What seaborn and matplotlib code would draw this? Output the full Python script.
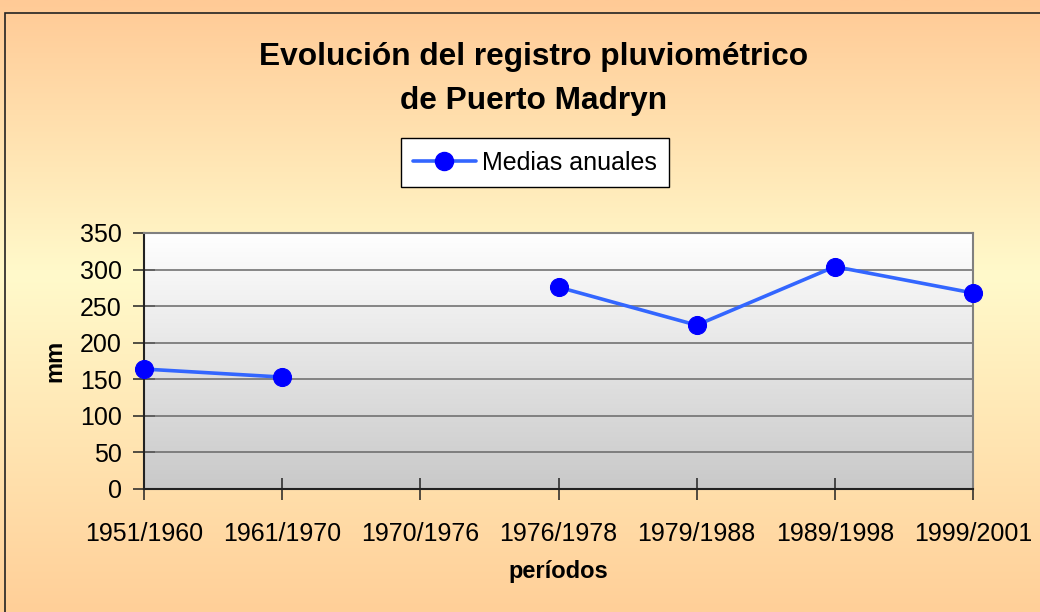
import numpy as np
import pandas as pd
import matplotlib
matplotlib.use("Agg")
import matplotlib.pyplot as plt
import seaborn as sns
from matplotlib.colors import LinearSegmentedColormap
from matplotlib.lines import Line2D
from matplotlib.patches import Rectangle

# ── Data ─────────────────────────────────────
periodos = ["1951/1960", "1961/1970", "1970/1976", "1976/1978",
            "1979/1988", "1989/1998", "1999/2001"]
medias = [164, 153, np.nan, 276, 224, 304, 268]
y_ticks = [0, 50, 100, 150, 200, 250, 300, 350]

df = pd.DataFrame({"pos": np.arange(len(periodos)), "mm": medias})
df["tramo"] = df["mm"].isna().cumsum()   # break the line where data is missing
df = df.dropna()

sns.set_theme(style="white")
plt.rcParams["font.family"] = ["Liberation Sans", "DejaVu Sans"]
plt.rcParams["text.color"] = "black"
plt.rcParams["axes.labelcolor"] = "black"

fig = plt.figure(figsize=(10.4, 6.12), dpi=100)

# ── Figure background gradient ───────────────
bg = fig.add_axes([0, 0, 1, 1], zorder=-10)
bg_cmap = LinearSegmentedColormap.from_list(
    "sunset", [(0, "#ffca96"), (0.45, "#fffacb"), (1, "#ffcf98")])
bg.imshow(np.linspace(0, 1, 256).reshape(-1, 1), aspect="auto", cmap=bg_cmap,
          extent=[0, 1, 0, 1], origin="upper")
bg.set_xlim(0, 1)
bg.set_ylim(0, 1)
bg.axis("off")
fig.patches.append(Rectangle((4.5 / 1040, -0.1), 1.2, 1 - 12.5 / 612 + 0.1,
                             transform=fig.transFigure, fill=False,
                             edgecolor="#222222", linewidth=1.2))

# ── Plot area ────────────────────────────────
ax = fig.add_axes([144 / 1040, 1 - 489 / 612, (973 - 144) / 1040, (489 - 233) / 612])
pa_cmap = LinearSegmentedColormap.from_list("gris", ["#ffffff", "#c9c9c9"])
ax.imshow(np.linspace(0, 1, 256).reshape(-1, 1), aspect="auto", cmap=pa_cmap,
          extent=[0, len(periodos) - 1, 0, 350], origin="upper", zorder=0)

for t in y_ticks[1:-1]:
    ax.axhline(t, color="#686868", linewidth=1.1, zorder=1)

sns.lineplot(data=df, x="pos", y="mm", units="tramo", estimator=None,
             color="#3366ff", linewidth=2.6, marker="o", markersize=13,
             markerfacecolor="#0000ff", markeredgecolor="#0000ff",
             ax=ax, zorder=3, clip_on=False, legend=False)

ax.set_xlim(0, len(periodos) - 1)
ax.set_ylim(0, 350)
ax.set_xticks(np.arange(len(periodos)), periodos)
ax.set_yticks(y_ticks)
ax.tick_params(axis="both", direction="inout", length=16, width=1.1,
               color="#222222", labelsize=18, labelcolor="black",
               bottom=True, left=True)
ax.tick_params(axis="x", pad=16)
ax.tick_params(axis="y", pad=8)

for side in ["top", "right"]:
    ax.spines[side].set_color("#808080")
    ax.spines[side].set_linewidth(1.5)
for side in ["left", "bottom"]:
    ax.spines[side].set_color("#222222")
    ax.spines[side].set_linewidth(1.5)

ax.set_xlabel("períodos", fontsize=17, fontweight="bold", labelpad=10)
ax.set_ylabel("mm", fontsize=17, fontweight="bold", labelpad=10)

# ── Title & legend ───────────────────────────
fig.text(534 / 1040, 1 - 79 / 612, "Evolución del registro pluviométrico\nde Puerto Madryn",
         ha="center", va="center", fontsize=22.8, fontweight="bold",
         linespacing=1.57)

handle = Line2D([], [], color="#3366ff", linewidth=2.6, marker="o", markersize=13,
                markerfacecolor="#0000ff", markeredgecolor="#0000ff")
leg = fig.legend(handles=[handle], labels=["Medias anuales"], loc="center",
                 bbox_to_anchor=(535 / 1040, 1 - 163 / 612), fontsize=18,
                 frameon=True, fancybox=False, edgecolor="black", framealpha=1,
                 facecolor="white", handlelength=2.5, handletextpad=0.25,
                 borderpad=0.5)
leg.get_frame().set_linewidth(1.0)

fig.savefig("out.png", dpi=100)
